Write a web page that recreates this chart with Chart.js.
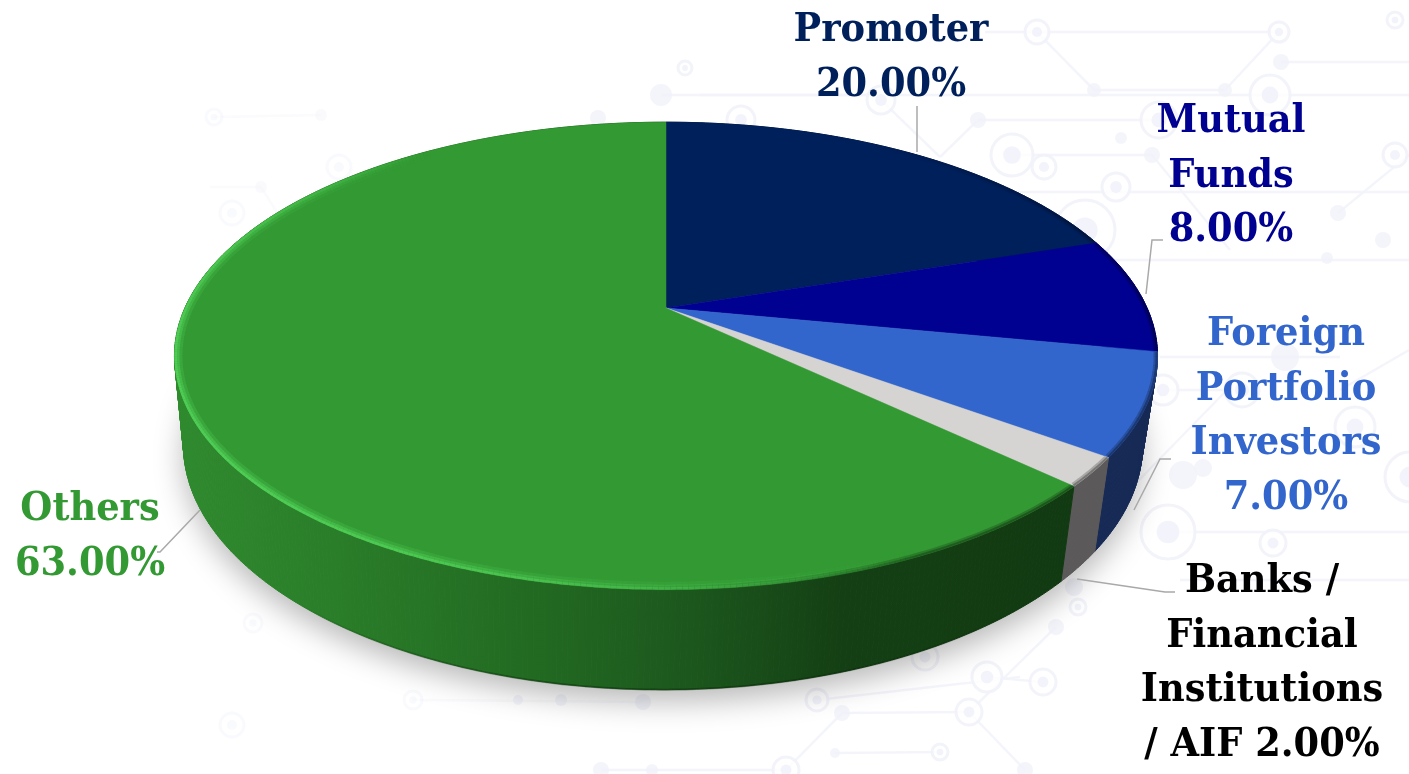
<!DOCTYPE html>
<html>
<head>
<meta charset="utf-8">
<script src="https://cdn.jsdelivr.net/npm/chart.js@4/dist/chart.umd.min.js"></script>
<style>
    html, body { margin: 0; padding: 0; background: #fff; overflow: hidden; }
    #wrap { position: relative; width: 1409px; height: 774px; }
    #wrap svg, #wrap canvas { position: absolute; left: 0; top: 0; }
    #circuit { filter: blur(0.6px); }
</style>
</head>
<body>
<div id="wrap">
    <svg id="circuit" width="1409" height="774"></svg>
    <canvas id="holding-chart" width="1409" height="774"></canvas>
</div>
<script>
// 数据
var categories = ['Promoter', 'Mutual Funds', 'Foreign Portfolio Investors', 'Banks / Financial Institutions / AIF', 'Others'];
var shares = [20, 8, 7, 2, 63];
var topColors = ['#00205b', '#000091', '#3366cc', '#d6d4d2', '#339933'];
var wallColors = ['#00163f', '#00005f', '#162a55', '#5b5959', '#1f5f20'];
var textColors = ['#00205b', '#000091', '#3366cc', '#000000', '#339933'];
var labelLines = [
    ['Promoter', '{v}'],
    ['Mutual', 'Funds', '{v}'],
    ['Foreign', 'Portfolio', 'Investors', '{v}'],
    ['Banks /', 'Financial', 'Institutions', '/ AIF {v}'],
    ['Others', '{v}']
];

// 标签位置 (中心 x, 第一行基线 y)
var labelAnchors = [[891, 41], [1231, 132], [1286, 345], [1262, 592], [90, 520]];
var leaderLines = [
    [[917, 106], [917, 152]],
    [[1163, 240], [1152, 240], [1146, 294]],
    [[1171, 459], [1160, 459], [1134, 510]],
    [[1175, 592], [1165, 592], [1077, 579]],
    [[200, 510], [160, 552], [157, 552]]
];

// 背景电路花纹
var bgRings = [[1037, 32, 12], [1279, 32, 10], [1270, 95, 20], [1012, 155, 21], [1044, 167, 12], [1159, 120, 18], [881, 100, 14], [741, 120, 14],
    [1395, 155, 12], [1085, 230, 30], [1116, 187, 14], [1163, 390, 15], [1242, 390, 17], [1168, 532, 27], [1273, 543, 13], [1355, 427, 20],
    [1410, 477, 25], [413, 700, 9], [817, 700, 11], [969, 712, 13], [987, 677, 15], [1043, 682, 13], [786, 770, 13], [940, 752, 8], [1078, 607, 8],
    [925, 657, 13], [214, 117, 8], [339, 167, 12], [232, 213, 12], [685, 68, 7], [253, 623, 9], [232, 725, 12], [1395, 20, 8]];
var bgDots = [[1094, 90, 7], [1225, 90, 7], [1281, 62, 8], [1152, 155, 8], [978, 120, 8], [1338, 213, 8], [1285, 357, 14], [1183, 475, 14], [1203, 468, 9],
    [1383, 240, 8], [1327, 258, 6], [518, 700, 5], [561, 700, 6], [643, 702, 8], [842, 713, 8], [1025, 770, 8], [601, 770, 8], [652, 770, 6], [835, 753, 5],
    [1056, 627, 8], [1074, 587, 9], [321, 115, 6], [261, 187, 6], [661, 95, 11], [598, 118, 8], [1121, 138, 6]];
var bgLines = [[985, 32, 1279, 32], [1037, 32, 1094, 90], [1094, 90, 1225, 90], [1225, 90, 1279, 32], [1281, 62, 1409, 62], [700, 95, 1409, 95],
    [1012, 155, 1152, 155], [978, 120, 1159, 120], [881, 100, 940, 157], [940, 157, 978, 120], [1152, 155, 1230, 250], [1000, 192, 1409, 192],
    [1100, 260, 1409, 260], [1338, 213, 1409, 155], [1163, 390, 1242, 390], [1160, 357, 1340, 357], [1227, 390, 1100, 520], [1168, 532, 1409, 532], [1180, 580, 1409, 580],
    [1340, 390, 1409, 350], [214, 117, 321, 115], [210, 187, 261, 187], [261, 187, 285, 225], [413, 700, 643, 702], [842, 713, 969, 712], [969, 712, 1025, 770],
    [842, 713, 786, 770], [601, 770, 786, 770], [835, 753, 940, 752], [987, 677, 1043, 682], [817, 700, 1020, 677], [969, 712, 1056, 627], [661, 95, 880, 95]];

function fadeAt(x) {
    // 左边比右边更淡
    return x < 500 ? 0.4 : 0.85;
}

function drawCircuit() {
    var svg = '';
    bgLines.forEach(function(l) {
        svg += '<line x1="' + l[0] + '" y1="' + l[1] + '" x2="' + l[2] + '" y2="' + l[3] + '" stroke="#f3f4fb" stroke-width="2.5" opacity="' + fadeAt(l[0]) + '"/>';
    });
    bgRings.forEach(function(r) {
        svg += '<circle cx="' + r[0] + '" cy="' + r[1] + '" r="' + r[2] + '" fill="#fff" stroke="#f1f2fa" stroke-width="3" opacity="' + fadeAt(r[0]) + '"/>';
        svg += '<circle cx="' + r[0] + '" cy="' + r[1] + '" r="' + (r[2] * 0.42) + '" fill="#f1f2fa" opacity="' + fadeAt(r[0]) + '"/>';
    });
    bgDots.forEach(function(d) {
        svg += '<circle cx="' + d[0] + '" cy="' + d[1] + '" r="' + d[2] + '" fill="#f2f3fa" opacity="' + fadeAt(d[0]) + '"/>';
    });
    document.getElementById('circuit').innerHTML = svg;
}

// 透视: 圆盘 -> 屏幕
var TILT = 0.205;
var SPREAD_X = 1.562;
var SPREAD_Y = 0.727;

function project(arc, angle) {
    var u = Math.cos(angle), v = Math.sin(angle);
    var w = 1 - TILT * v;
    return {
        x: arc.x + arc.outerRadius * SPREAD_X * u / w,
        y: arc.y + arc.outerRadius * SPREAD_Y * v / w
    };
}

// 底面 = 顶面平移并略微压缩
function projectBottom(arc, angle) {
    var p = project(arc, angle);
    return {
        x: arc.x - 3 + 0.9756 * (p.x - arc.x),
        y: arc.y + 137 + 1.047 * (p.y - arc.y - 48)
    };
}

function sampleAngles(start, end) {
    var list = [];
    var n = Math.max(2, Math.ceil((end - start) / 0.01));
    for (var i = 0; i <= n; i++) {
        list.push(start + (end - start) * i / n);
    }
    return list;
}

function traceFace(ctx, arc, start, end) {
    ctx.beginPath();
    ctx.moveTo(arc.x, arc.y);
    sampleAngles(start, end).forEach(function(a) {
        var p = project(arc, a);
        ctx.lineTo(p.x, p.y);
    });
    ctx.closePath();
}

function drawGroundShadow(ctx, arc) {
    ctx.save();
    ctx.shadowColor = 'rgba(0, 0, 0, 0.28)';
    ctx.shadowBlur = 30;
    ctx.shadowOffsetY = 12;
    ctx.fillStyle = '#ccc';
    ctx.beginPath();
    sampleAngles(0, Math.PI * 2).forEach(function(a, i) {
        var p = projectBottom(arc, a);
        if (i === 0) ctx.moveTo(p.x, p.y); else ctx.lineTo(p.x, p.y);
    });
    ctx.closePath();
    ctx.fill();
    ctx.restore();
}

// 侧面逐段画, 左右转折处才不会抵消
function drawWall(ctx, arc, color) {
    var angles = sampleAngles(arc.startAngle, arc.endAngle);
    ctx.save();
    ctx.fillStyle = color;
    ctx.strokeStyle = color;
    ctx.lineWidth = 1;
    for (var i = 0; i < angles.length - 1; i++) {
        var a = project(arc, angles[i]), b = project(arc, angles[i + 1]);
        var c = projectBottom(arc, angles[i + 1]), d = projectBottom(arc, angles[i]);
        ctx.beginPath();
        ctx.moveTo(a.x, a.y);
        ctx.lineTo(b.x, b.y);
        ctx.lineTo(c.x, c.y);
        ctx.lineTo(d.x, d.y);
        ctx.closePath();
        ctx.fill();
        ctx.stroke();
    }
    ctx.restore();
}

function wallGradient(ctx) {
    var g = ctx.createLinearGradient(175, 0, 1065, 0);
    g.addColorStop(0, '#2f8a2e');
    g.addColorStop(0.18, '#2a7d29');
    g.addColorStop(0.4, '#226a22');
    g.addColorStop(0.58, '#1c571d');
    g.addColorStop(0.75, '#143f14');
    g.addColorStop(1, '#123a12');
    return g;
}

function strokeSegment(ctx, p, q, style, width) {
    ctx.strokeStyle = style;
    ctx.lineWidth = width;
    ctx.beginPath();
    ctx.moveTo(p.x, p.y);
    ctx.lineTo(q.x, q.y);
    ctx.stroke();
}

// 顶面边缘的高光和暗边
function drawRim(ctx, arc, isGreen) {
    ctx.save();
    traceFace(ctx, arc, arc.startAngle, arc.endAngle);
    ctx.clip();
    ctx.lineCap = 'butt';
    var angles = sampleAngles(arc.startAngle, arc.endAngle);
    for (var i = 0; i < angles.length - 1; i++) {
        var a = angles[i];
        var p = project(arc, a), q = project(arc, angles[i + 1]);
        var c = Math.cos(a), s = Math.sin(a);
        var shade = Math.max(0, 0.85 * c + 0.5 * s);
        if (shade > 0) {
            strokeSegment(ctx, p, q, 'rgba(0, 0, 0, ' + (shade * 0.22) + ')', 8);
            strokeSegment(ctx, p, q, 'rgba(0, 0, 0, ' + (shade * 0.3) + ')', 4);
        }
        var light = isGreen ? Math.max(0, -0.85 * c + 0.5 * s - 0.08) : 0;
        if (light > 0) {
            strokeSegment(ctx, p, q, 'rgba(70, 190, 76, ' + Math.min(1, light * 0.45) + ')', 16);
            strokeSegment(ctx, p, q, 'rgba(74, 196, 80, ' + Math.min(1, light * 0.8) + ')', 10);
            strokeSegment(ctx, p, q, 'rgba(80, 205, 86, ' + Math.min(1, light * 1.1) + ')', 5);
        }
    }
    ctx.restore();
}

// 侧面底边的细暗线
function drawBottomEdge(ctx, arc) {
    var angles = sampleAngles(arc.startAngle, arc.endAngle);
    for (var i = 0; i < angles.length - 1; i++) {
        var s = Math.sin(angles[i]);
        if (s > 0.75) {
            var p = projectBottom(arc, angles[i]), q = projectBottom(arc, angles[i + 1]);
            strokeSegment(ctx, p, q, 'rgba(0, 30, 0, ' + ((s - 0.75) * 1.6) + ')', 2);
        }
    }
}

var pie3dPlugin = {
    id: 'pie3d',
    // 用库算好的角度画透视饼图, 代替默认的平面绘制
    beforeDatasetDraw: function(chart, args) {
        var ctx = chart.ctx;
        var arcs = args.meta.data;
        drawGroundShadow(ctx, arcs[0]);
        arcs.forEach(function(arc, i) {
            drawWall(ctx, arc, i === 4 ? wallGradient(ctx) : wallColors[i]);
        });
        drawBottomEdge(ctx, arcs[4]);
        arcs.forEach(function(arc, i) {
            traceFace(ctx, arc, arc.startAngle, arc.endAngle);
            ctx.fillStyle = topColors[i];
            ctx.strokeStyle = topColors[i];
            ctx.lineWidth = 0.5;
            ctx.fill();
            ctx.stroke();
            drawRim(ctx, arc, i === 4);
        });
        return false;
    },
    afterDatasetsDraw: function(chart) {
        var ctx = chart.ctx;
        ctx.save();
        ctx.strokeStyle = '#a9a9a9';
        ctx.lineWidth = 1.5;
        leaderLines.forEach(function(pts) {
            ctx.beginPath();
            pts.forEach(function(p, i) {
                if (i === 0) ctx.moveTo(p[0], p[1]); else ctx.lineTo(p[0], p[1]);
            });
            ctx.stroke();
        });
        ctx.font = 'bold 40px "DejaVu Serif"';
        ctx.textAlign = 'center';
        ctx.textBaseline = 'alphabetic';
        labelLines.forEach(function(lines, i) {
            ctx.fillStyle = textColors[i];
            lines.forEach(function(line, j) {
                var text = line.replace('{v}', shares[i].toFixed(2) + '%');
                ctx.save();
                ctx.translate(labelAnchors[i][0], labelAnchors[i][1] + j * 54.5);
                ctx.scale(0.92, 1);
                ctx.fillText(text, 0, 0);
                ctx.restore();
            });
        });
        ctx.restore();
    }
};

drawCircuit();

new Chart(document.getElementById('holding-chart'), {
    type: 'pie',
    data: {
        labels: categories,
        datasets: [{ data: shares, backgroundColor: topColors, borderWidth: 0 }]
    },
    options: {
        responsive: false,
        animation: false,
        events: [],
        layout: { padding: { left: 0, right: 77, top: 0, bottom: 158 } },
        plugins: { legend: { display: false }, tooltip: { enabled: false } }
    },
    plugins: [pie3dPlugin]
});
</script>
</body>
</html>
